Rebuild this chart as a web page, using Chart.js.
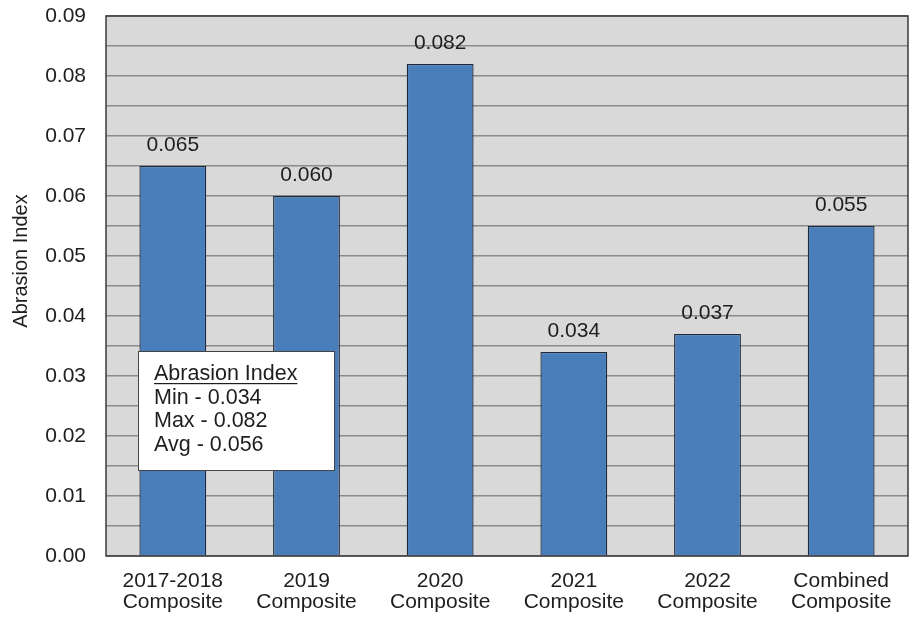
<!DOCTYPE html>
<html>
<head>
<meta charset="utf-8">
<script src="https://cdn.jsdelivr.net/npm/chart.js@4.4.1/dist/chart.umd.min.js"></script>
<style>
  html, body { margin: 0; padding: 0; background: #fff; }
  #wrap { width: 912px; height: 624px; position: relative; }
</style>
</head>
<body>
<div id="wrap"><canvas id="chart"></canvas></div>
<script>
const categories = [
  ['2017-2018', 'Composite'],
  ['2019', 'Composite'],
  ['2020', 'Composite'],
  ['2021', 'Composite'],
  ['2022', 'Composite'],
  ['Combined', 'Composite']
];
const abrasion = [0.065, 0.060, 0.082, 0.034, 0.037, 0.055];
const yTitle = 'Abrasion Index';
const statTitle = 'Abrasion Index';
const statLines = ['Min - 0.034', 'Max - 0.082', 'Avg - 0.056'];

const FONT = 'Arial, "Liberation Sans", sans-serif';
const TEXT = '#1e1e1e';

// gray plot background, dark frame, rotated axis title
const plotFrame = {
  id: 'plotFrame',
  beforeDraw(chart) {
    const a = chart.chartArea;
    const ctx = chart.ctx;
    ctx.save();
    ctx.fillStyle = '#d9d9d9';
    ctx.fillRect(a.left, a.top, a.right - a.left, a.bottom - a.top);
    ctx.restore();
  },
  afterDraw(chart) {
    const a = chart.chartArea;
    const ctx = chart.ctx;
    ctx.save();
    ctx.strokeStyle = '#3a3a3a';
    ctx.lineWidth = 1.5;
    ctx.strokeRect(a.left, a.top, a.right - a.left, a.bottom - a.top);

    ctx.translate(21, a.top + 245);
    ctx.rotate(-Math.PI / 2);
    ctx.font = '20px ' + FONT;
    ctx.fillStyle = TEXT;
    ctx.textAlign = 'center';
    ctx.textBaseline = 'middle';
    ctx.fillText(yTitle, 0, 0);
    ctx.restore();
  }
};

// value printed above each bar
const barValues = {
  id: 'barValues',
  afterDatasetsDraw(chart) {
    const ctx = chart.ctx;
    const meta = chart.getDatasetMeta(0);
    ctx.save();
    ctx.font = '21px ' + FONT;
    ctx.fillStyle = TEXT;
    ctx.textAlign = 'center';
    ctx.textBaseline = 'alphabetic';
    meta.data.forEach((bar, i) => {
      ctx.fillText(abrasion[i].toFixed(3), bar.x, bar.y - 15);
    });
    ctx.restore();
  }
};

// summary box in the lower left of the plot
const statBox = {
  id: 'statBox',
  afterDraw(chart) {
    const a = chart.chartArea;
    const ctx = chart.ctx;
    const x = a.left + 32, y = a.top + 335, w = 196, h = 119;
    ctx.save();
    ctx.fillStyle = '#fff';
    ctx.fillRect(x, y, w, h);
    ctx.strokeStyle = '#444';
    ctx.lineWidth = 1;
    ctx.strokeRect(x + 0.5, y + 0.5, w, h);
    ctx.font = '21.5px ' + FONT;
    ctx.fillStyle = TEXT;
    ctx.textAlign = 'left';
    ctx.textBaseline = 'alphabetic';
    const tx = x + 16;
    let ty = y + 29;
    ctx.fillText(statTitle, tx, ty);
    const tw = ctx.measureText(statTitle).width;
    ctx.fillRect(tx, ty + 3, tw, 1.2);
    statLines.forEach(line => {
      ty += 23.5;
      ctx.fillText(line, tx, ty);
    });
    ctx.restore();
  }
};

new Chart(document.getElementById('chart'), {
  type: 'bar',
  data: {
    labels: categories,
    datasets: [{
      data: abrasion,
      backgroundColor: '#4a7ebb',
      borderColor: '#1e2a3a',
      borderWidth: 1.3,
      categoryPercentage: 0.5,
      barPercentage: 1.0
    }]
  },
  options: {
    responsive: true,
    maintainAspectRatio: false,
    animation: false,
    layout: { padding: { top: 16, right: 4, left: 0, bottom: 0 } },
    plugins: {
      legend: { display: false },
      tooltip: { enabled: false }
    },
    scales: {
      x: {
        grid: { display: false, drawTicks: false },
        border: { display: false },
        ticks: {
          color: TEXT,
          font: { family: FONT, size: 21, lineHeight: 1.0 },
          padding: 15,
          maxRotation: 0
        },
        afterFit(scale) { scale.height = 68; }
      },
      y: {
        min: 0,
        max: 0.09,
        grid: { color: '#8c8c8c', lineWidth: 1.5, drawTicks: false },
        border: { display: false },
        ticks: {
          stepSize: 0.005,
          color: TEXT,
          font: { family: FONT, size: 21 },
          padding: 20,
          autoSkip: false,
          callback(v) {
            const k = Math.round(v * 1000);
            return k % 10 === 0 ? (k / 1000).toFixed(2) : '';
          }
        },
        afterFit(scale) {
          scale.width = 106;
          scale.paddingTop = 0;
        }
      }
    }
  },
  plugins: [plotFrame, barValues, statBox]
});
</script>
</body>
</html>
